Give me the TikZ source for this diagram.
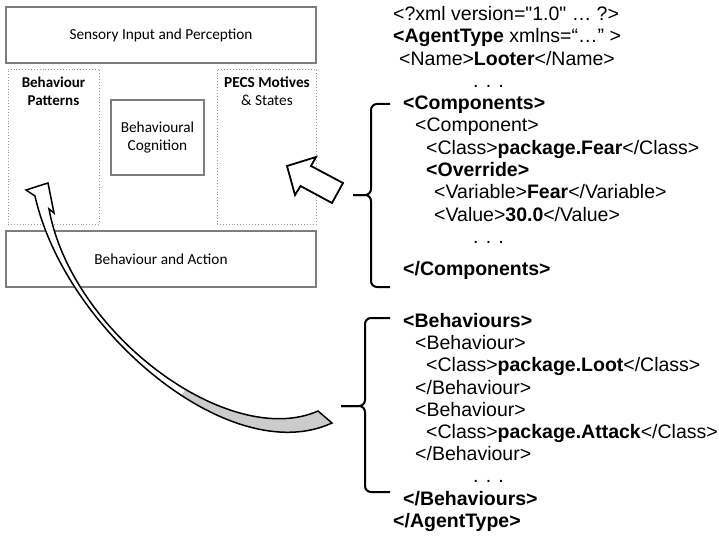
\documentclass[tikz,border=0pt]{standalone}
\usepackage{fontspec}
\newfontfamily\xmlfont{Liberation Sans}
\newfontfamily\calib{Carlito}
\definecolor{boxgray}{RGB}{125,125,125}
\definecolor{dotgray}{RGB}{150,150,150}
\definecolor{bandgray}{RGB}{204,204,204}
\begin{document}
\begin{tikzpicture}[x=1pt,y=-1pt,
  box/.style={draw=boxgray, line width=1.1pt, inner sep=0pt},
  dotbox/.style={draw=dotgray, dotted, line width=0.9pt, inner sep=0pt},
  lbl/.style={font=\calib\fontsize{15.3}{18}\selectfont, align=center, text=black},
  blbl/.style={font=\calib\bfseries\fontsize{15}{17.5}\selectfont, align=center},
  xmlline/.style={anchor=west, inner sep=0pt, font=\xmlfont\fontsize{19.5}{23}\selectfont, text height=16pt, text depth=3pt},
  brace/.style={draw=black, line width=2pt, rounded corners=6pt},
  blockarrow/.style={draw=black, line width=1.8pt, fill=white, line join=miter},
  cpath/.style={insert path={(35,196) -- (26,190) -- (48,183) -- (54,213) -- (49,209)
     .. controls (72,335) and (230,450) .. (318,411) -- (332,423)
     .. controls (230,470) and (65,330) .. (35,196) -- cycle}}
]
\useasboundingbox (0,0) rectangle (719,548);

% left architecture diagram
\node[box, lbl, minimum width=310pt, minimum height=56pt] (sens) at (161,35) {Sensory Input and Perception};
\node[dotbox, minimum width=91pt, minimum height=155pt] (bp) at (53.5,146.5) {};
\node[blbl] (bpt) at (53.5,91.5) {Behaviour\\Patterns};
\node[dotbox, minimum width=99pt, minimum height=155pt] (pecs) at (266.5,146.5) {};
\node[lbl] (pecst) at (267,91.5) {\textbf{PECS Motives}\\\& States};
\node[box, lbl, minimum width=93pt, minimum height=75pt] (bc) at (157.5,137.5) {Behavioural\\Cognition};
\node[box, lbl, minimum width=310pt, minimum height=56pt] (ba) at (161,259) {Behaviour and Action};

% XML listing
\node[xmlline] (l1) at (393,14) {<?xml version="1.0" … ?>};
\node[xmlline] (l2) at (393,36.3) {\textbf{<AgentType} xmlns=“…” >};
\node[xmlline] (l3) at (399,58.6) {<Name>\textbf{Looter}</Name>};
\node[xmlline] (l4) at (473,80.9) {. . .};
\node[xmlline] (l5) at (403,103.2) {\textbf{<Components>}};
\node[xmlline] (l6) at (415,125.5) {<Component>};
\node[xmlline] (l7) at (426,147.8) {<Class>\textbf{package.Fear}</Class>};
\node[xmlline] (l8) at (426,170.1) {\textbf{<Override>}};
\node[xmlline] (l9) at (434,192.4) {<Variable>\textbf{Fear}</Variable>};
\node[xmlline] (l10) at (434,214.7) {<Value>\textbf{30.0}</Value>};
\node[xmlline] (l11) at (473,237) {. . .};
\node[xmlline] (l12) at (403,269) {\textbf{</Components>}};

\node[xmlline] (b1) at (403,321) {\textbf{<Behaviours>}};
\node[xmlline] (b2) at (415,343.2) {<Behaviour>};
\node[xmlline] (b3) at (426,365.4) {<Class>\textbf{package.Loot}</Class>};
\node[xmlline] (b4) at (415,387.6) {</Behaviour>};
\node[xmlline] (b5) at (415,409.8) {<Behaviour>};
\node[xmlline] (b6) at (426,432) {<Class>\textbf{package.Attack}</Class>};
\node[xmlline] (b7) at (415,454.2) {</Behaviour>};
\node[xmlline] (b8) at (473,476.4) {. . .};
\node[xmlline] (b9) at (403,498.6) {\textbf{</Behaviours>}};
\node[xmlline] (b10) at (393,521) {\textbf{</AgentType>}};

% brackets
\coordinate (br1top) at (390,104);
\coordinate (br1bot) at (390,287);
\coordinate (br1tip) at (353,195);
\draw[brace] (br1top) -- (371,104) -- (371,195) -- (br1tip);
\draw[brace] (br1bot) -- (371,287) -- (371,195) -- (br1tip);
\coordinate (br2top) at (390,318);
\coordinate (br2bot) at (390,492);
\coordinate (br2tip) at (341,406);
\draw[brace] (br2top) -- (365,318) -- (365,406) -- (br2tip);
\draw[brace] (br2bot) -- (365,492) -- (365,406) -- (br2tip);

% curved arrow to Behaviour Patterns
\path[fill=white, cpath];
\begin{scope}
  \clip (135,475) -- (335,135) -- (719,135) -- (719,548) -- (135,548) -- cycle;
  \path[fill=bandgray, cpath];
\end{scope}
\path[draw=black, line width=1.5pt, line join=miter, cpath];

% block arrow to PECS
\draw[blockarrow] (287,166) -- (316,157) -- (311,166) -- (343,183) -- (332,203) -- (300.5,186) -- (295,195) -- cycle;
\end{tikzpicture}
\end{document}
